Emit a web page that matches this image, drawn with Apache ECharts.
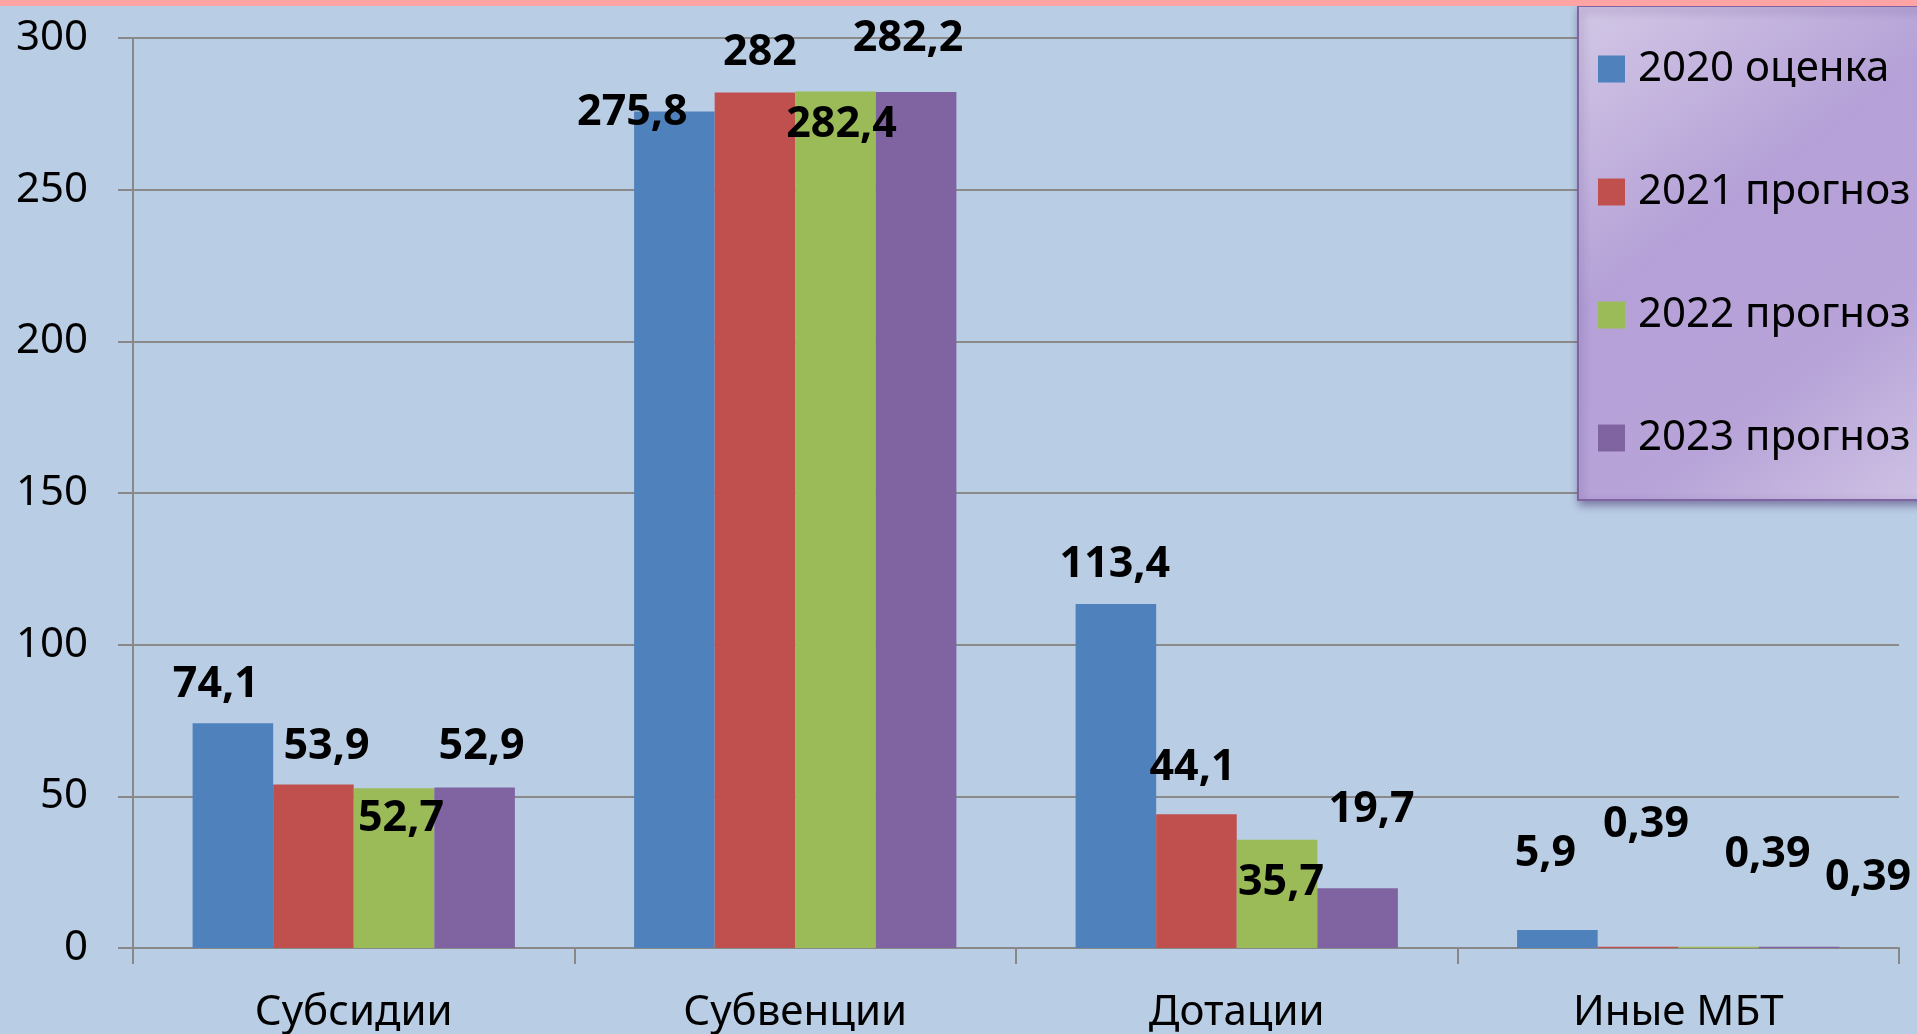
<!DOCTYPE html>
<html>
<head>
<meta charset="utf-8">
<script src="https://cdn.jsdelivr.net/npm/echarts@6/dist/echarts.min.js"></script>
<style>
  html, body { margin: 0; padding: 0; background: #b9cde5; }
  #chart { width: 1917px; height: 1034px; }
</style>
</head>
<body>
<div id="chart"></div>
<script>
// categories
var categories = ['Субсидии', 'Субвенции', 'Дотации', 'Иные МБТ'];
// series names
var seriesNames = ['2020 оценка', '2021 прогноз', '2022 прогноз', '2023 прогноз'];
// values per series
var values2020 = [74.1, 275.8, 113.4, 5.9];
var values2021 = [53.9, 282, 44.1, 0.39];
var values2022 = [52.7, 282.4, 35.7, 0.39];
var values2023 = [52.9, 282.2, 19.7, 0.39];
var yTicks = [0, 50, 100, 150, 200, 250, 300];

var colors = ['#4f81bd', '#c0504d', '#9bbb59', '#8064a2'];
// label nudges (excel style placement), per series per category
var labelShift = [
  [[-17, -18], [-42, 21], [-1, -19], [-12, -56]],
  [[13, -18], [5, -20], [-4, -26], [8, -102]],
  [[7, 51], [6, 53], [4, 63], [49, -72]],
  [[7, -21], [-8, -33], [14, -58], [69, -49]]
];

var allValues = [values2020, values2021, values2022, values2023];
var font = 'Noto Sans';

var series = allValues.map(function (vals, s) {
  return {
    name: seriesNames[s],
    type: 'bar',
    barGap: '0%',
    barCategoryGap: '27%',
    itemStyle: { color: colors[s] },
    data: vals.map(function (v, c) {
      return {
        value: v,
        label: { offset: labelShift[s][c] }
      };
    }),
    label: {
      show: true,
      position: 'top',
      distance: 0,
      fontFamily: font,
      fontSize: 43,
      fontWeight: 'bold',
      color: '#000',
      lineHeight: 40,
      formatter: function (p) { return String(p.value).replace('.', ','); }
    }
  };
});

var chart = echarts.init(document.getElementById('chart'));
chart.setOption({
  backgroundColor: '#b9cde5',
  animation: false,
  graphic: [{
    type: 'rect',
    shape: { x: 0, y: 0, width: 1917, height: 6 },
    style: { fill: '#ffa4a4' },
    z: 100
  }],
  grid: { left: 133, right: 18, top: 38, bottom: 84 },
  legend: {
    orient: 'vertical',
    left: 1578,
    top: 6,
    padding: [41, 30, 40, 20],
    itemWidth: 27,
    itemHeight: 27,
    itemGap: 79,
    icon: 'rect',
    data: seriesNames,
    textStyle: {
      fontFamily: font,
      fontSize: 42,
      lineHeight: 40,
      color: '#000',
      padding: [4, 0, 0, 8]
    },
    borderColor: '#8064a2',
    borderWidth: 2,
    shadowColor: 'rgba(60, 40, 100, 0.5)',
    shadowBlur: 8,
    shadowOffsetX: 2,
    shadowOffsetY: 4,
    backgroundColor: new echarts.graphic.LinearGradient(0, 0, 1, 1, [
      { offset: 0, color: '#d3c8e6' },
      { offset: 0.4, color: '#b5a1d7' },
      { offset: 0.7, color: '#b7a3d8' },
      { offset: 1, color: '#d0c4e5' }
    ])
  },
  xAxis: {
    type: 'category',
    data: categories,
    axisLine: { lineStyle: { color: '#888', width: 2 } },
    axisTick: { show: true, length: 16, lineStyle: { color: '#888', width: 2 } },
    axisLabel: {
      fontFamily: font,
      fontSize: 42,
      color: '#000',
      margin: 44
    }
  },
  yAxis: {
    type: 'value',
    min: yTicks[0],
    max: yTicks[yTicks.length - 1],
    interval: yTicks[1] - yTicks[0],
    axisLine: { show: true, lineStyle: { color: '#888', width: 2 } },
    axisTick: { show: true, length: 15, lineStyle: { color: '#888', width: 2 } },
    splitLine: { lineStyle: { color: '#8a8a8a', width: 2 } },
    axisLabel: {
      fontFamily: font,
      fontSize: 42,
      color: '#000',
      margin: 45
    }
  },
  series: series
});
</script>
</body>
</html>
